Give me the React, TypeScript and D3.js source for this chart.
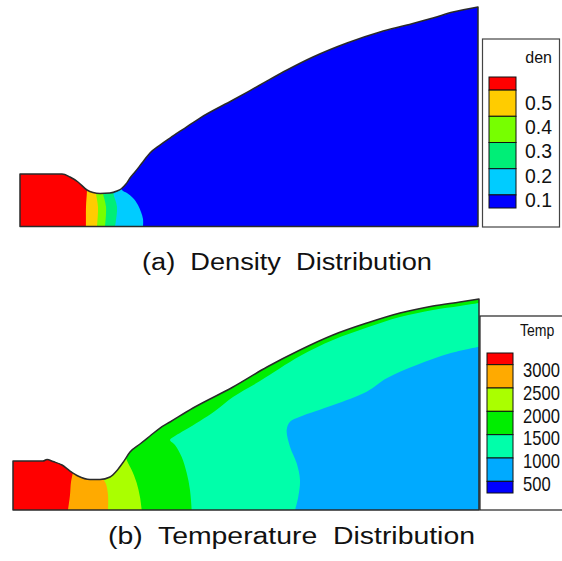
import React from 'react';
import * as d3 from 'd3';

type P = [number, number];

// ---------- Panel (a): nozzle wall (axial x, radius r) ----------
const wallA: P[] = [
  [0, 11.46], [9.17, 11.46], [10.92, 10.81], [12.66, 9.72], [14.63, 7.97], [15.94, 7.42],
  [17.47, 7.21], [19.65, 7.31], [21.18, 7.75], [22.05, 8.19], [23.14, 9.28], [24.02, 10.59],
  [25.11, 11.9], [26.64, 13.86], [28.38, 16.05], [30.57, 17.79], [32.75, 19.32], [36.03, 21.51],
  [39.3, 23.69], [46.51, 27.62], [52.4, 30.9], [58.3, 34.17], [63.97, 37.01], [71.4, 40.07],
  [78.6, 42.47], [84.5, 44.0], [90.17, 45.52], [94.54, 46.83], [100, 47.93],
];

// density contour boundaries (low -> high)
const denBound01: P[] = [[26.86, 0], [26.86, 1.64], [26.42, 3.17], [25.76, 4.69], [24.67, 6.22], [23.36, 7.31], [22.27, 7.97], [21.83, 10.15]];
const denBound02: P[] = [[20.74, 0], [21.18, 4.26], [20.31, 7.53], [20.31, 9.5]];
const denBound03: P[] = [[18.56, 0], [18.78, 4.26], [18.12, 7.31], [18.12, 9.06]];
const denBound04: P[] = [[16.81, 0], [17.03, 4.26], [16.59, 7.31], [16.59, 9.06]];
const denBound05: P[] = [[14.41, 0], [14.41, 4.26], [14.63, 7.97], [14.63, 10.15]];
const denBounds: P[][] = [denBound01, denBound02, denBound03, denBound04, denBound05];
const denColors = ['#0000FF', '#00CCFF', '#00EE77', '#77FF00', '#FFCC00', '#FF0000'];
const denLevels = [0.5, 0.4, 0.3, 0.2, 0.1];
const denEdges = [0.55, 0.5, 0.4, 0.3, 0.2, 0.1, 0.05];

// ---------- Panel (b) ----------
const wallB: P[] = [
  [0, 11.15], [6.44, 11.15], [7.3, 11.49], [8.58, 11.03], [10.52, 10.24], [12.23, 8.87],
  [13.95, 7.73], [16.52, 6.94], [18.67, 6.94], [20.82, 7.51], [22.32, 8.99], [23.61, 10.81],
  [25.11, 13.19], [27.25, 15.01], [29.4, 16.83], [31.55, 18.65], [33.69, 20.02], [38.63, 23.2],
  [47.21, 27.98], [54.51, 32.53], [61.59, 36.4], [68.67, 39.81], [75.97, 42.54], [83.05, 44.81],
  [90.13, 46.41], [95.92, 47.32], [100, 48.0],
];

const tBound1000: P[] = [
  [60.52, 0], [61.22, 3.03], [61.59, 6.82], [60.88, 10.62], [59.44, 14.4], [58.73, 18.2],
  [59.44, 20.09], [61.59, 21.22], [68.73, 23.89], [75.9, 26.91], [80.19, 29.96], [86.63, 32.98],
  [93.78, 35.65], [100, 37.15],
];
const tBound1500: P[] = [
  [38.35, 0], [37.98, 4.55], [37.28, 8.42], [36.2, 12.06], [34.76, 14.79], [33.69, 15.92],
  [34.76, 16.83], [36.91, 18.2], [40.13, 20.25], [43.35, 22.52], [47.21, 25.71], [53.0, 29.34],
  [61.59, 35.03], [68.67, 38.67], [75.97, 41.51], [83.05, 43.9], [90.13, 45.5], [95.92, 46.41], [100, 47.09],
];
const tBound2000: P[] = [[27.62, 0], [27.25, 2.96], [26.55, 6.14], [25.47, 9.1], [24.4, 11.37], [23.82, 13.65]];
const tBound2500: P[] = [[20.39, 0], [20.39, 3.41], [19.96, 5.91], [19.31, 7.28], [19.1, 9.1]];
const tBound3000: P[] = [[11.8, 0], [12.23, 3.41], [12.45, 6.37], [12.88, 8.64], [13.3, 11.37]];
const tBounds: P[][] = [tBound1000, tBound1500, tBound2000, tBound2500, tBound3000];
const tColors = ['#00AAFF', '#00FFAA', '#00EE00', '#AAFF00', '#FFAA00', '#FF0000'];
const tLegendColors = ['#FF0000', '#FFAA00', '#AAFF00', '#00EE00', '#00FFAA', '#00AAFF', '#0000FF'];
const tLevels = [3000, 2500, 2000, 1500, 1000, 500];
const tEdges = [3250, 3000, 2500, 2000, 1500, 1000, 500, 250];

const FONT = "'Liberation Sans', Arial, sans-serif";

function Nozzle({ id, wall, bounds, colors, xRange, yRange }: {
  id: string; wall: P[]; bounds: P[][]; colors: string[]; xRange: [number, number]; yRange: [number, number];
}) {
  const x = d3.scaleLinear().domain([0, 100]).range(xRange);
  const y = d3.scaleLinear().domain([0, 48]).range(yRange);
  const wallLine = d3.line<P>().x(d => x(d[0])).y(d => y(d[1])).curve(d3.curveMonotoneX);
  const nozzle = `${wallLine(wall)}L${x(100)},${y(0)}L${x(0)},${y(0)}Z`;
  const bLine = d3.line<P>().x(d => x(d[0])).y(d => y(d[1])).curve(d3.curveCatmullRom.alpha(0.5));
  const poly = d3.line<P>().x(d => x(d[0])).y(d => y(d[1]));
  const regions = bounds.map(b => {
    const last = b[b.length - 1];
    const top = 70;
    const closing: P[] = last[0] >= 99 ? [[106, last[1]], [106, top]] : [[last[0], top]];
    const tail: P[] = [...closing, [-6, top], [-6, -3], [b[0][0], -3], [b[0][0], 0]];
    return `${bLine(b)}${(poly([last, ...tail]) || '').replace(/^M[^L]*/, '')}Z`;
  });
  return (
    <g>
      <defs>
        <clipPath id={id}><path d={nozzle} /></clipPath>
      </defs>
      <g clipPath={`url(#${id})`}>
        <path d={nozzle} fill={colors[0]} />
        {regions.map((d, i) => <path key={i} d={d} fill={colors[i + 1]} />)}
      </g>
      <path d={nozzle} fill="none" stroke="#2a2a2a" strokeWidth={1.5} strokeLinejoin="round" />
    </g>
  );
}

export default function App() {
  const yDen = d3.scaleLinear().domain([0.55, 0.05]).range([77, 208]);
  const yDenLab = d3.scaleLinear().domain([0.5, 0.1]).range([102.5, 200]);
  const yT = d3.scaleLinear().domain([3250, 250]).range([353, 493]);
  const yTLab = d3.scaleLinear().domain([3000, 500]).range([370, 484]);
  const denBandColors = denColors.slice().reverse();
  return (
    <svg width={562} height={561} style={{ position: 'absolute', left: 0, top: 0, background: '#fff' }} fontFamily={FONT}>
      <rect width={562} height={561} fill="#fff" />
      {/* panel (a) */}
      <Nozzle id="clipA" wall={wallA} bounds={denBounds} colors={denColors} xRange={[20, 478]} yRange={[226.5, 6.7]} />
      <rect x={482.5} y={39} width={77} height={188} fill="#fff" stroke="#444" strokeWidth={1.2} />
      <text x={552} y={63} fontSize={16} textAnchor="end" fill="#111">den</text>
      {denBandColors.map((c, i) => (
        <rect key={i} x={489} y={yDen(denEdges[i])} width={27} height={yDen(denEdges[i + 1]) - yDen(denEdges[i])}
          fill={c} stroke="#111" strokeWidth={1} />
      ))}
      {denLevels.map(v => (
        <text key={v} x={525} y={yDenLab(v)} fontSize={20} dominantBaseline="central" fill="#111"
          textLength={27} lengthAdjust="spacingAndGlyphs">{v.toFixed(1)}</text>
      ))}
      <text x={142} y={270} fontSize={23} textLength={290} lengthAdjust="spacingAndGlyphs" style={{ whiteSpace: 'pre' }} fill="#111">(a)  Density  Distribution</text>

      {/* panel (b) */}
      <Nozzle id="clipB" wall={wallB} bounds={tBounds} colors={tColors} xRange={[13, 479]} yRange={[510, 299]} />
      <rect x={480} y={316} width={100} height={194} fill="#fff" stroke="#222" strokeWidth={1.2} />
      <text transform="translate(520,336) scale(0.88,1)" fontSize={16} fill="#111">Temp</text>
      {tLegendColors.map((c, i) => (
        <rect key={i} x={487} y={yT(tEdges[i])} width={26} height={yT(tEdges[i + 1]) - yT(tEdges[i])}
          fill={c} stroke="#111" strokeWidth={1} />
      ))}
      {tLevels.map(v => (
        <text key={v} transform={`translate(523,${yTLab(v)}) scale(0.83,1)`} fontSize={20} dominantBaseline="central" fill="#111">{v}</text>
      ))}
      <text x={108} y={544} fontSize={23} textLength={367} lengthAdjust="spacingAndGlyphs" style={{ whiteSpace: 'pre' }} fill="#111">(b)  Temperature  Distribution</text>
    </svg>
  );
}
